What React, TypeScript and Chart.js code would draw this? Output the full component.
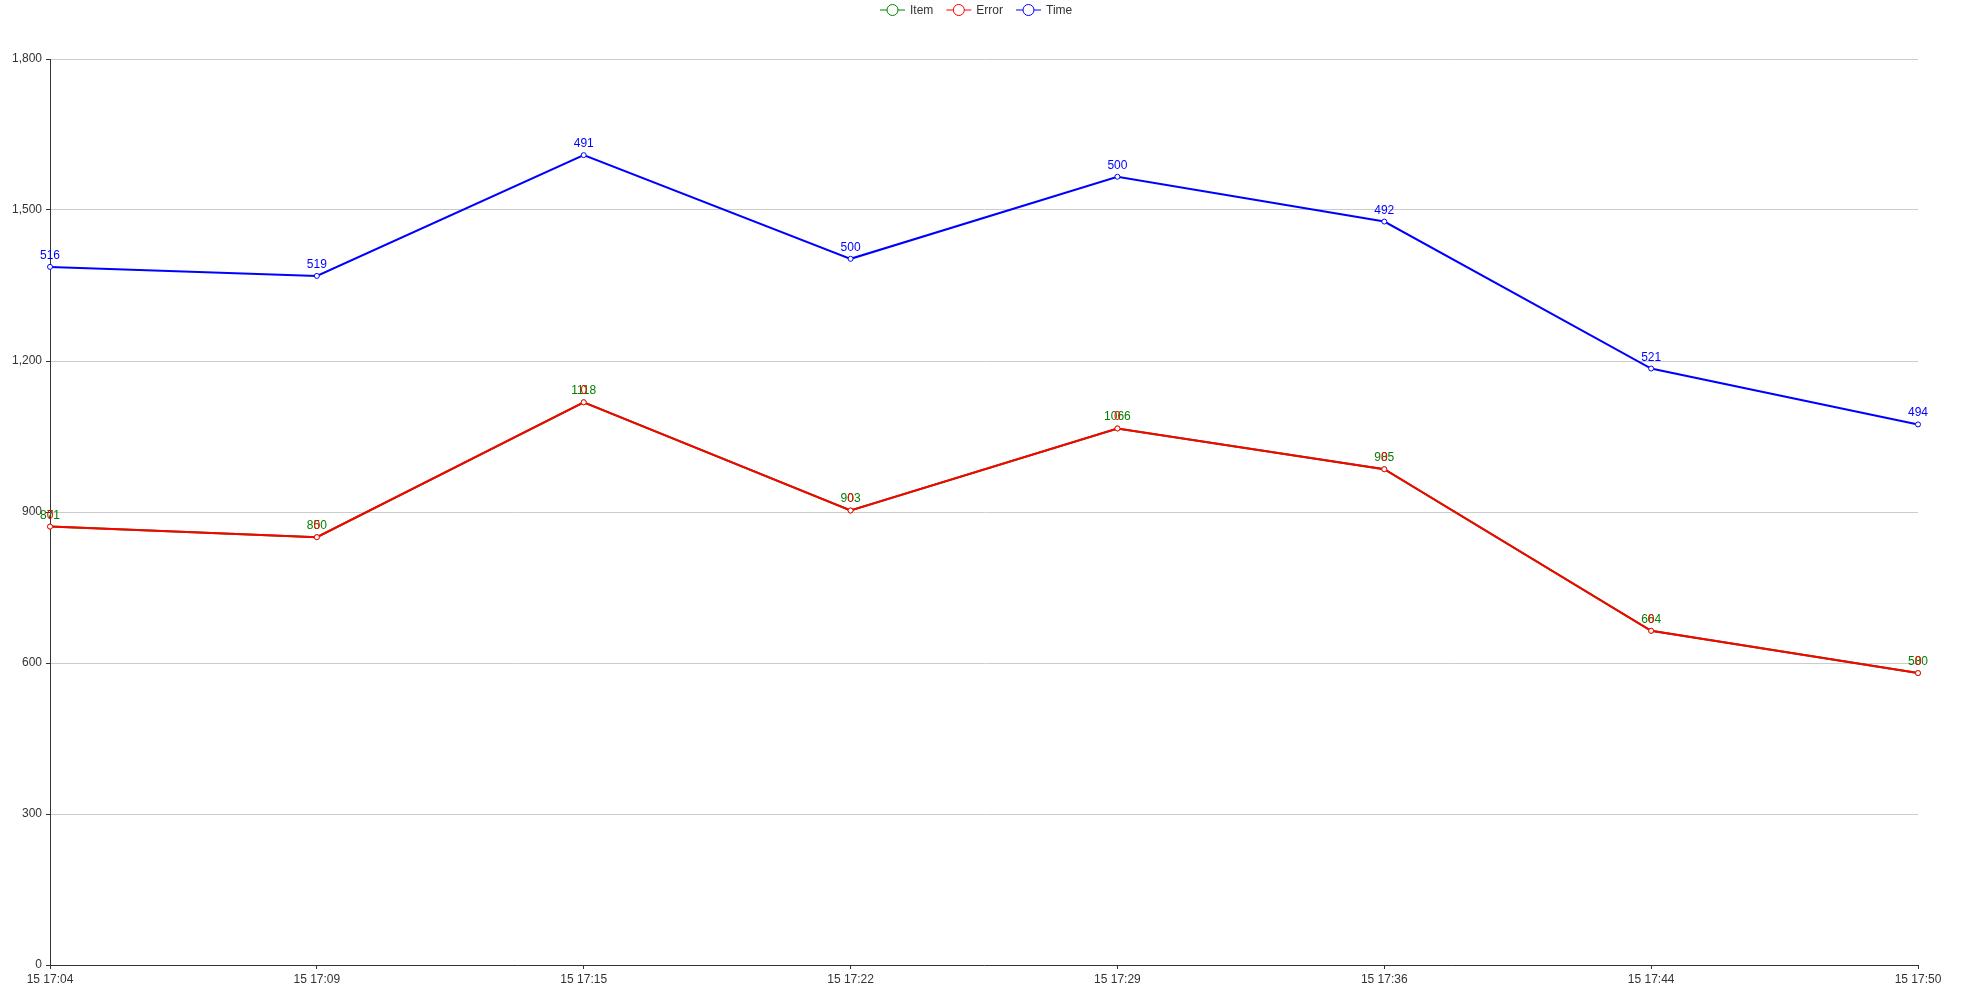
import React, { useEffect, useRef } from "react";
import { Chart, registerables } from "chart.js";

Chart.register(...registerables);

const categories = [
  "15 17:04",
  "15 17:09",
  "15 17:15",
  "15 17:22",
  "15 17:29",
  "15 17:36",
  "15 17:44",
  "15 17:50",
];
const itemValues = [871, 850, 1118, 903, 1066, 985, 664, 580];
const errorValues = [0, 0, 0, 0, 0, 0, 0, 0];
const timeValues = [516, 519, 491, 500, 500, 492, 521, 494];
const yTicks = [0, 300, 600, 900, 1200, 1500, 1800];

const seriesNames = ["Item", "Error", "Time"];
const seriesColors = ["#008000", "#ff0000", "#0000ff"];

const FONT = "12px 'Liberation Sans', Arial, Helvetica, sans-serif";

export default function App() {
  const ref = useRef<HTMLCanvasElement | null>(null);

  useEffect(() => {
    const canvas = ref.current;
    if (!canvas) return;

    // stacked totals derived from the series arrays
    const itemStack = itemValues.slice();
    const errorStack = itemValues.map((v, i) => v + errorValues[i]);
    const timeStack = errorStack.map((v, i) => v + timeValues[i]);
    const rawValues = [itemValues, errorValues, timeValues];

    const mkDs = (label: string, data: number[], color: string) => ({
      label,
      data,
      borderColor: color,
      backgroundColor: "#ffffff",
      pointBackgroundColor: "#ffffff",
      pointBorderColor: color,
      pointRadius: 2.5,
      pointBorderWidth: 1,
      borderWidth: 2,
      fill: false,
      tension: 0,
    });

    // dataset order chosen so Error draws over Item (index 0 draws last)
    const datasets = [
      mkDs("Error", errorStack, seriesColors[1]),
      mkDs("Item", itemStack, seriesColors[0]),
      mkDs("Time", timeStack, seriesColors[2]),
    ];
    const dsIndexForSeries = [1, 0, 2];

    const labelPlugin = {
      id: "valueLabels",
      afterDatasetsDraw(chart: any) {
        const ctx = chart.ctx;
        ctx.save();
        ctx.font = FONT;
        ctx.textAlign = "center";
        ctx.textBaseline = "alphabetic";
        for (let s = 0; s < 3; s++) {
          const meta = chart.getDatasetMeta(dsIndexForSeries[s]);
          ctx.fillStyle = seriesColors[s];
          meta.data.forEach((pt: any, i: number) => {
            ctx.fillText(String(rawValues[s][i]), pt.x, pt.y - 8);
          });
        }
        ctx.restore();
      },
    };

    const legendPlugin = {
      id: "customLegend",
      afterDraw(chart: any) {
        const ctx = chart.ctx;
        ctx.save();
        ctx.font = FONT;
        ctx.textBaseline = "middle";
        ctx.textAlign = "left";
        let x = 880;
        const y = 10;
        for (let s = 0; s < 3; s++) {
          const c = seriesColors[s];
          ctx.strokeStyle = c;
          ctx.lineWidth = 1;
          ctx.beginPath();
          ctx.moveTo(x, y);
          ctx.lineTo(x + 25, y);
          ctx.stroke();
          ctx.beginPath();
          ctx.arc(x + 12.5, y, 5.5, 0, Math.PI * 2);
          ctx.fillStyle = "#ffffff";
          ctx.fill();
          ctx.stroke();
          ctx.fillStyle = "#333333";
          ctx.fillText(seriesNames[s], x + 30, y + 0.5);
          const w = ctx.measureText(seriesNames[s]).width;
          x += 30 + w + 13;
        }
        ctx.restore();
      },
    };

    const chart = new Chart(canvas, {
      type: "line",
      data: { labels: categories, datasets: datasets as any },
      options: {
        animation: false,
        responsive: false,
        devicePixelRatio: 1,
        layout: { padding: { top: 59, right: 63, left: 0, bottom: 0 } },
        plugins: {
          legend: { display: false },
          tooltip: { enabled: false },
          title: { display: false },
        },
        scales: {
          x: {
            type: "category",
            offset: false,
            grid: {
              drawOnChartArea: false,
              drawTicks: true,
              tickLength: 4,
              tickColor: "#333333",
            },
            border: { color: "#333333", width: 1 },
            ticks: {
              color: "#333333",
              font: { family: "'Liberation Sans', Arial, sans-serif", size: 12 },
              padding: 3,
              maxRotation: 0,
              autoSkip: false,
            },
            afterFit(scale: any) {
              scale.height = 37;
            },
          },
          y: {
            min: 0,
            max: 1800,
            afterBuildTicks(scale: any) {
              scale.ticks = yTicks.map((v) => ({ value: v }));
            },
            grid: {
              color: "#cccccc",
              lineWidth: 1,
              drawTicks: true,
              tickLength: 4,
              tickColor: "#333333",
            },
            border: { color: "#333333", width: 1 },
            ticks: {
              color: "#333333",
              font: { family: "'Liberation Sans', Arial, sans-serif", size: 12 },
              padding: 4,
            },
            afterFit(scale: any) {
              scale.width = 50;
            },
          },
        },
      },
      plugins: [labelPlugin, legendPlugin],
    });

    return () => chart.destroy();
  }, []);

  return (
    <div style={{ position: "fixed", left: 0, top: 0, width: 1981, height: 1002, background: "#ffffff" }}>
      <canvas ref={ref} width={1981} height={1002} style={{ display: "block" }} />
    </div>
  );
}
